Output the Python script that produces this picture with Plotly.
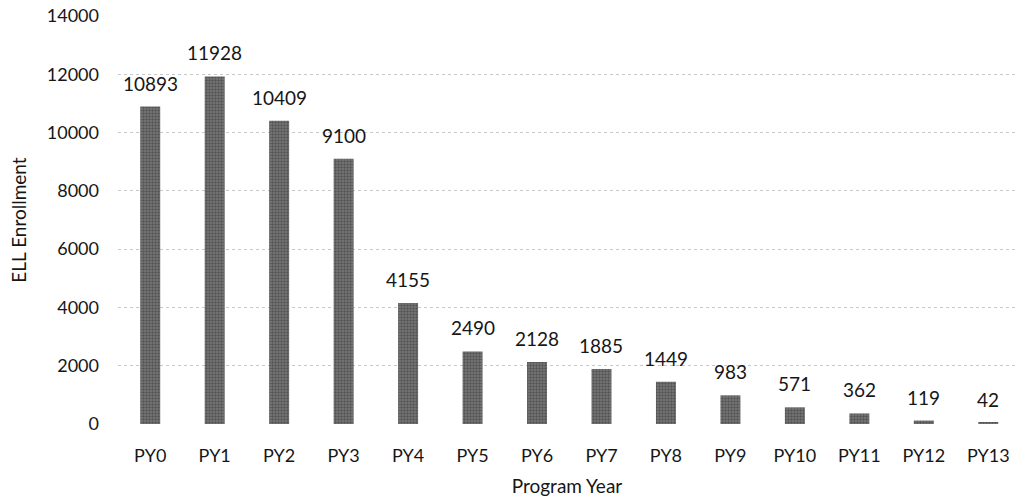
import plotly.graph_objects as go

# Enrollment by program year
program_years = ["PY0", "PY1", "PY2", "PY3", "PY4", "PY5", "PY6",
                 "PY7", "PY8", "PY9", "PY10", "PY11", "PY12", "PY13"]
enrollment = [10893, 11928, 10409, 9100, 4155, 2490, 2128,
              1885, 1449, 983, 571, 362, 119, 42]
y_ticks = [0, 2000, 4000, 6000, 8000, 10000, 12000, 14000]

FONT = "Lato"
INK = "#161616"

fig = go.Figure()
fig.add_trace(go.Bar(
    x=program_years,
    y=enrollment,
    marker=dict(color="#5e5e5e", line=dict(width=0),
                pattern=dict(shape=".", fgcolor="#2e2e2e", bgcolor="#7a7a7a",
                             size=3, solidity=0.5)),
    width=0.31,
    hoverinfo="x+y",
))

# Value labels above each bar
for cat, val in zip(program_years, enrollment):
    fig.add_annotation(x=cat, y=val, text=str(val), showarrow=False,
                       yanchor="bottom", yshift=10,
                       font=dict(family=FONT, size=19, color=INK))

fig.update_layout(
    width=1016, height=504,
    margin=dict(l=118, r=0, t=16, b=80),
    paper_bgcolor="white", plot_bgcolor="white",
    showlegend=False,
    font=dict(family=FONT, size=18, color=INK),
    xaxis=dict(
        type="category",
        range=[-0.5, 13.43],
        showgrid=False, showline=False, ticks="",
        ticklabelstandoff=19,
        tickfont=dict(family=FONT, size=18, color=INK),
        title=dict(text="Program Year", standoff=14,
                   font=dict(family=FONT, size=19, color=INK)),
    ),
    yaxis=dict(
        range=[0, 14000],
        tickvals=y_ticks,
        ticktext=[str(v) for v in y_ticks],
        showgrid=True, gridcolor="#c8c8c8", griddash="dot", gridwidth=1,
        zeroline=False, showline=False, ticks="",
        ticklabelstandoff=18,
        tickfont=dict(family=FONT, size=18, color=INK),
        title=dict(text="ELL Enrollment", standoff=15,
                   font=dict(family=FONT, size=19, color=INK)),
    ),
)

fig.write_html("out.html")
